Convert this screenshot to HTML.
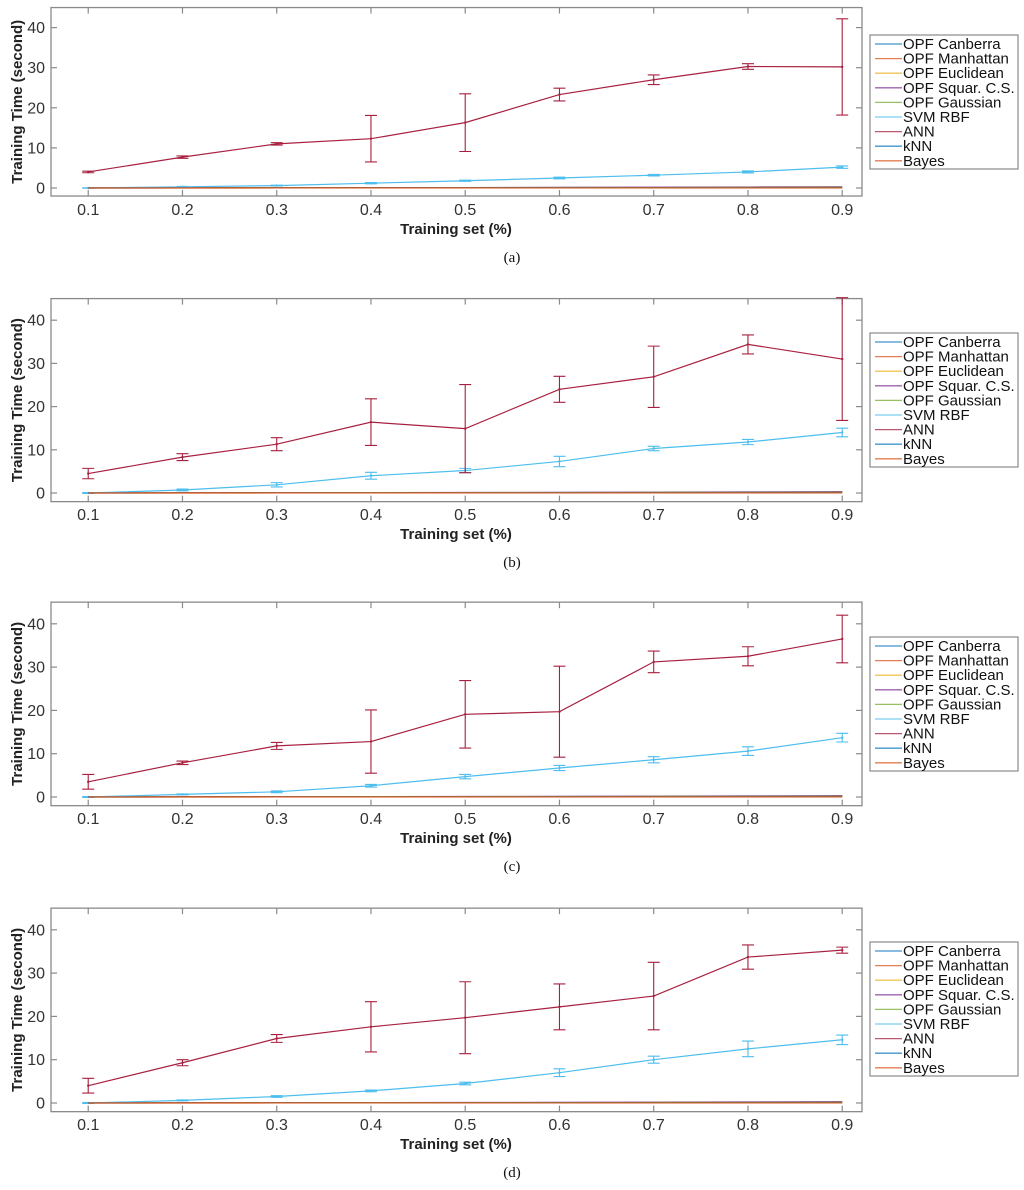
<!DOCTYPE html>
<html><head><meta charset="utf-8"><style>
html,body{margin:0;padding:0;background:#fff;}
svg{display:block;font-family:"Liberation Sans",sans-serif;}
</style></head><body>
<svg id="chart" width="1024" height="1190" viewBox="0 0 1024 1190" xmlns="http://www.w3.org/2000/svg"></svg>
<script>
const categories = [0.1,0.2,0.3,0.4,0.5,0.6,0.7,0.8,0.9];
const xTickLabels = ["0.1","0.2","0.3","0.4","0.5","0.6","0.7","0.8","0.9"];
const yTickValues = [0,10,20,30,40];
const seriesNames = ["OPF Canberra","OPF Manhattan","OPF Euclidean","OPF Squar. C.S.","OPF Gaussian","SVM RBF","ANN","kNN","Bayes"];
const panelLabels = ["(a)","(b)","(c)","(d)"];

const opfCanberra = [0.01,0.02,0.03,0.05,0.06,0.08,0.1,0.12,0.14];
const opfManhattan = [0.01,0.02,0.03,0.04,0.06,0.07,0.09,0.11,0.13];
const opfEuclidean = [0.01,0.02,0.03,0.04,0.05,0.07,0.08,0.1,0.12];
const opfSquar = [0.01,0.03,0.05,0.08,0.11,0.15,0.19,0.24,0.3];
const opfGaussian = [0.01,0.02,0.03,0.05,0.07,0.09,0.11,0.13,0.16];
const knnVals = [0.0,0.01,0.01,0.02,0.02,0.03,0.03,0.04,0.04];
const bayesVals = [0.0,0.0,0.01,0.01,0.01,0.01,0.02,0.02,0.02];

const svmA = [0.0,0.3,0.6,1.2,1.8,2.5,3.2,4.0,5.2];
const svmErrA = [0.05,0.1,0.1,0.15,0.15,0.2,0.2,0.25,0.3];
const annA = [4.0,7.7,11.0,12.3,16.3,23.3,27.0,30.3,30.2];
const annErrA = [0.2,0.3,0.3,5.8,7.2,1.6,1.2,0.7,12.0];
const svmB = [0.0,0.7,1.9,4.0,5.2,7.3,10.3,11.8,14.0];
const svmErrB = [0.1,0.2,0.5,0.8,0.5,1.2,0.5,0.6,1.0];
const annB = [4.5,8.3,11.3,16.4,14.9,24.0,26.9,34.4,31.0];
const annErrB = [1.2,0.8,1.5,5.4,10.2,3.0,7.1,2.2,14.2];
const svmC = [0.0,0.6,1.2,2.6,4.7,6.7,8.6,10.6,13.7];
const svmErrC = [0.1,0.1,0.2,0.3,0.5,0.6,0.7,1.0,1.0];
const annC = [3.5,7.9,11.8,12.8,19.1,19.7,31.2,32.5,36.5];
const annErrC = [1.7,0.4,0.8,7.3,7.8,10.5,2.5,2.2,5.5];
const svmD = [0.0,0.6,1.5,2.8,4.5,7.0,10.0,12.5,14.6];
const svmErrD = [0.1,0.1,0.2,0.2,0.3,0.9,0.8,1.8,1.1];
const annD = [4.0,9.3,14.9,17.6,19.7,22.2,24.7,33.7,35.3];
const annErrD = [1.7,0.7,0.9,5.8,8.3,5.3,7.8,2.8,0.7];

const svmSets=[svmA,svmB,svmC,svmD], svmErrSets=[svmErrA,svmErrB,svmErrC,svmErrD];
const annSets=[annA,annB,annC,annD], annErrSets=[annErrA,annErrB,annErrC,annErrD];

const colors=["#0072BD","#D95319","#EDB120","#7E2F8E","#77AC30","#4DBEEE","#A8203F","#0072BD","#D95319"];
const geom=[
 {zero:188,s:4.01,leg:35},
 {zero:493,s:4.32,leg:333},
 {zero:797,s:4.33,leg:637},
 {zero:1103,s:4.33,leg:942}
];
const NS="http://www.w3.org/2000/svg";
const svg=document.getElementById('chart');
function mk(tag,attrs,parent){const e=document.createElementNS(NS,tag);for(const k in attrs)e.setAttribute(k,attrs[k]);(parent||svg).appendChild(e);return e;}
const XL=51,XR=862,XMIN=0.0605,XMAX=0.921;
function xs(v){return XL+(v-XMIN)/(XMAX-XMIN)*(XR-XL);}

geom.forEach((g,pi)=>{
  const yScale=v=>g.zero-v*g.s;
  const top=yScale(45),bot=yScale(-2);
  const grp=mk('g',{});
  
  
  const box=mk('rect',{x:XL,y:top,width:XR-XL,height:bot-top,fill:'#fff',stroke:'#8a8a8a','stroke-width':1.3},grp);
  
  
  yTickValues.forEach(v=>{
    const y=yScale(v);
    mk('line',{x1:XL,x2:XL+6,y1:y,y2:y,stroke:'#8a8a8a','stroke-width':1.2},grp);
    mk('line',{x1:XR,x2:XR-6,y1:y,y2:y,stroke:'#8a8a8a','stroke-width':1.2},grp);
    const t=mk('text',{x:XL-6,y:y+5.5,'text-anchor':'end','font-size':16,fill:'#333'},grp);
    t.textContent=String(v);
    
    
  });
  categories.forEach((c,i)=>{
    const x=xs(c);
    mk('line',{x1:x,x2:x,y1:bot,y2:bot-6,stroke:'#8a8a8a','stroke-width':1.2},grp);
    mk('line',{x1:x,x2:x,y1:top,y2:top+6,stroke:'#8a8a8a','stroke-width':1.2},grp);
    const t=mk('text',{x:x,y:g.zero+27,'text-anchor':'middle','font-size':16,fill:'#333'},grp);
    t.textContent=xTickLabels[i];
    
    
  });
  const small=[opfCanberra,opfManhattan,opfEuclidean,opfSquar,opfGaussian];
  function line(vals,col,name,w){
    const p=mk('polyline',{points:vals.map((v,i)=>xs(categories[i])+','+yScale(v)).join(' '),fill:'none',stroke:col,'stroke-width':w||1.2},grp);
    
    
  }
  function errs(vals,er,col,name){
    vals.forEach((v,i)=>{
      const x=xs(categories[i]),y1=yScale(v-er[i]),y2=yScale(v+er[i]);
      const e=mk('path',{d:`M${x},${y1}V${y2}M${x-6},${y1}H${x+6}M${x-6},${y2}H${x+6}`,stroke:col,'stroke-width':1.1,fill:'none'},grp);
      
      
      mk('circle',{cx:x,cy:yScale(v),r:1.2,fill:col},grp);
    });
  }
  small.forEach((s,k)=>line(s,colors[k],'line-'+seriesNames[k].toLowerCase().replace(/[^a-z]+/g,'-')));
  line(svmSets[pi],colors[5],'line-svm-rbf');
  errs(svmSets[pi],svmErrSets[pi],colors[5],'errorbar-svm-rbf');
  line(annSets[pi],colors[6],'line-ann');
  errs(annSets[pi],annErrSets[pi],colors[6],'errorbar-ann');
  line(knnVals,colors[7],'line-knn');
  line(bayesVals,colors[8],'line-bayes');
  const xt=mk('text',{x:456,y:g.zero+46,'text-anchor':'middle','font-size':15,'font-weight':'bold',fill:'#222'},grp);
  xt.textContent='Training set (%)';
  
  
  const cy=(top+bot)/2;
  const yt=mk('text',{x:22,y:cy,'text-anchor':'middle','font-size':15,'font-weight':'bold',fill:'#222',transform:`rotate(-90 22 ${cy})`},grp);
  yt.textContent='Training Time (second)';
  
  
  const lg=mk('g',{},grp);
  
  
  mk('rect',{x:870,y:g.leg,width:148,height:134,fill:'#fff',stroke:'#8a8a8a','stroke-width':1.2},lg);
  seriesNames.forEach((n,k)=>{
    const y=g.leg+9+k*14.6;
    const it=mk('g',{},lg);
    
    
    mk('line',{x1:875,x2:902,y1:y,y2:y,stroke:colors[k],'stroke-width':1.3,opacity:0.75},it);
    const t=mk('text',{x:903,y:y+5,'font-size':15,fill:'#111'},it);
    t.textContent=n;
  });
  const cap=mk('text',{x:512,y:g.zero+74,'text-anchor':'middle','font-size':15,fill:'#111','font-family':'Liberation Serif, serif'},grp);
  cap.textContent=panelLabels[pi];
  
  
});
</script>
</body></html>
